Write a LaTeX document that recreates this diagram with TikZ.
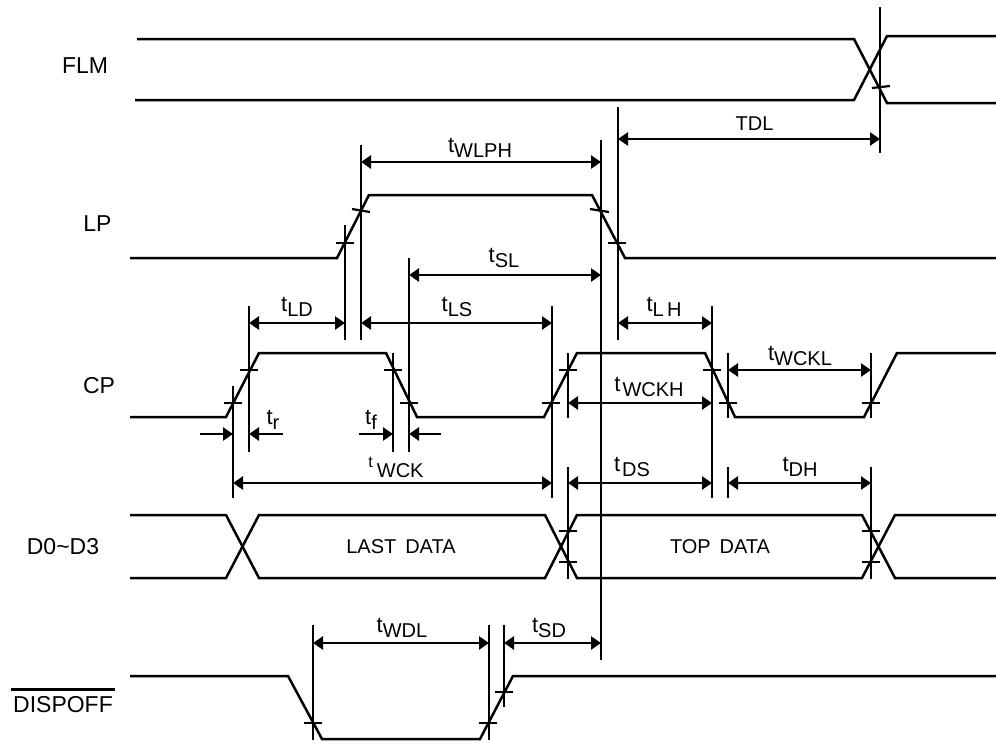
\documentclass[tikz,border=0pt]{standalone}
\usepackage{fontspec}
\setmainfont{Liberation Sans}
\usetikzlibrary{arrows.meta}
\newcommand{\tsub}[1]{{\fontsize{22}{22}\selectfont t}\raisebox{-4.5pt}{#1}}
\tikzset{
  signal/.style = {line width=2.5pt, line join=miter},
  ext/.style = {line width=2.5pt},
  tickmark/.style = {line width=2.2pt},
  dim/.style = {line width=2.5pt, -{Triangle[length=10pt,width=13pt]}},
  dimboth/.style = {line width=2.5pt, {Triangle[length=10pt,width=13pt]}-{Triangle[length=10pt,width=13pt]}},
  lab/.style = {font=\fontsize{20}{20}\selectfont, inner sep=0pt},
  sig/.style = {font=\fontsize{23}{23}\selectfont, inner sep=0pt},
}
\begin{document}
\begin{tikzpicture}[x=1pt, y=-1pt]
  \useasboundingbox[fill=white] (0,0) rectangle (996,742);
  % edges that the dimension lines refer to
  \coordinate (flm) at (880,0);
  \coordinate (lpa) at (345,0);
  \coordinate (lpb) at (361,0);
  \coordinate (lpc) at (601,0);
  \coordinate (lpd) at (618,0);
  \coordinate (cpa) at (233,0);
  \coordinate (cpb) at (249,0);
  \coordinate (cpc) at (393,0);
  \coordinate (cpd) at (409,0);
  \coordinate (cpe) at (552,0);
  \coordinate (cpf) at (568,0);
  \coordinate (cpg) at (712,0);
  \coordinate (cph) at (728,0);
  \coordinate (cpi) at (871,0);
  \coordinate (doa) at (313,0);
  \coordinate (dob) at (489,0);
  \coordinate (doc) at (504,0);
  % signal names
  \node[sig] (flmname) at (85,66) {FLM};
  \node[sig] (lpname) at (97.5,223.5) {LP};
  \node[sig] (cpname) at (99,385.5) {CP};
  \node[sig] (dname) at (63,547) {D0\textasciitilde D3};
  \node[sig] (dispname) at (63,705) {DISPOFF};
  \draw[ext] ([shift={(-2pt,7pt)}]dispname.north west) -- ([shift={(2pt,7pt)}]dispname.north east);
  % waveforms
  \draw[signal] (137,39) -- (854,39) -- (887,103) -- (996,103);
  \draw[signal] (135,100) -- (854,100) -- (887,36) -- (996,36);
  \draw[signal] (130,258) -- (337,258) -- (369,195) -- (592,195) -- (625,258) -- (996,258);
  \draw[signal] (130,417) -- (226,417) -- (259,353) -- (386,353) -- (417,417) -- (544,417)
    -- (577,353) -- (705,353) -- (735,417) -- (864,417) -- (897,353) -- (996,353);
  \draw[signal] (130,515) -- (226,515) -- (259,578) -- (545,578) -- (577,515) -- (862,515) -- (895,578) -- (996,578);
  \draw[signal] (130,578) -- (226,578) -- (259,515) -- (545,515) -- (577,578) -- (862,578) -- (895,515) -- (996,515);
  \draw[signal] (130,676) -- (288,676) -- (322,739) -- (480,739) -- (513,676) -- (996,676);
  \node[lab] (lastdata) at (401,547) {LAST\, DATA};
  \node[lab] (topdata) at (720,547) {TOP\, DATA};
  % ticks on the edges
  \foreach \tx/\ty in {345/243, 617/243, 249/370, 233/403, 393/370, 409/403, 568/370, 551/403,
      712/370, 728/403, 871/403, 568/531, 568/562, 871/531, 871/562, 313/723, 488/723, 504/692}
    \draw[tickmark] (\tx-9,\ty) -- (\tx+9,\ty);
  \draw[tickmark] (352,209) -- (370,212);
  \draw[tickmark] (590,209) -- (609,212);
  \draw[tickmark] (872,88) -- (890,86);
  % extension lines
  \draw[ext] (flm |- 0,7) -- (flm |- 0,153);
  \draw[ext] (lpa |- 0,225) -- (lpa |- 0,340);
  \draw[ext] (lpb |- 0,145) -- (lpb |- 0,340);
  \draw[ext] (lpc |- 0,140) -- (lpc |- 0,660);
  \draw[ext] (lpd |- 0,107) -- (lpd |- 0,340);
  \draw[ext] (cpa |- 0,386) -- (cpa |- 0,498);
  \draw[ext] (cpb |- 0,306) -- (cpb |- 0,452);
  \draw[ext] (cpc |- 0,353) -- (cpc |- 0,452);
  \draw[ext] (cpd |- 0,258) -- (cpd |- 0,452);
  \draw[ext] (cpe |- 0,306) -- (cpe |- 0,498);
  \draw[ext] (cpf |- 0,353) -- (cpf |- 0,418);
  \draw[ext] (cpf |- 0,467) -- (cpf |- 0,579);
  \draw[ext] (cpg |- 0,306) -- (cpg |- 0,498);
  \draw[ext] (cph |- 0,353) -- (cph |- 0,418);
  \draw[ext] (cph |- 0,467) -- (cph |- 0,498);
  \draw[ext] (cpi |- 0,353) -- (cpi |- 0,418);
  \draw[ext] (cpi |- 0,467) -- (cpi |- 0,579);
  \draw[ext] (doa |- 0,625) -- (doa |- 0,740);
  \draw[ext] (dob |- 0,625) -- (dob |- 0,740);
  \draw[ext] (doc |- 0,625) -- (doc |- 0,707);
  % dimensions
  \draw[dimboth] (lpd |- 0,139) -- (flm |- 0,139);
  \draw[dimboth] (lpb |- 0,162) -- (lpc |- 0,162);
  \draw[dimboth] (cpd |- 0,275) -- (lpc |- 0,275);
  \draw[dimboth] (cpb |- 0,323) -- (lpa |- 0,323);
  \draw[dimboth] (lpb |- 0,323) -- (cpe |- 0,323);
  \draw[dimboth] (lpd |- 0,323) -- (cpg |- 0,323);
  \draw[dimboth] (cph |- 0,370) -- (cpi |- 0,370);
  \draw[dimboth] (cpf |- 0,403) -- (cpg |- 0,403);
  \draw[dimboth] (cpf |- 0,483) -- (cpg |- 0,483);
  \draw[dimboth] (cph |- 0,483) -- (cpi |- 0,483);
  \draw[dimboth] (cpa |- 0,483) -- (cpe |- 0,483);
  \draw[dimboth] (doa |- 0,643) -- (dob |- 0,643);
  \draw[dimboth] (doc |- 0,643) -- (lpc |- 0,643);
  \coordinate (tra) at (200,434);
  \coordinate (trb) at (283,434);
  \coordinate (tfa) at (359,434);
  \coordinate (tfb) at (441,434);
  \draw[dim] (tra) -- (cpa |- tra);
  \draw[dim] (trb) -- (cpb |- trb);
  \draw[dim] (tfa) -- (cpc |- tfa);
  \draw[dim] (tfb) -- (cpd |- tfb);
  % dimension names
  \node[lab] (tdl) at (754.5,123.5) {TDL};
  \node[lab] (twlph) at (480,148) {\tsub{WLPH}};
  \node[lab] (tsl) at (504,258) {\tsub{SL}};
  \node[lab] (tld) at (297,307) {\tsub{LD}};
  \node[lab] (tls) at (457,307) {\tsub{LS}};
  \node[lab] (tlh) at (664,307) {\tsub{L\,H}};
  \node[lab] (twckl) at (800,356) {\tsub{WCKL}};
  \node[lab] (twckh) at (649,387) {\tsub{\hspace{2pt}WCKH}};
  \node[lab] (tr) at (273,420) {\tsub{r}};
  \node[lab] (tf) at (371,420) {\tsub{f}};
  \node[lab] (twck) at (396,467) {\raisebox{10pt}{\fontsize{16}{16}\selectfont t}\hspace{4pt}WCK};
  \node[lab] (tds) at (632,467) {\tsub{\hspace{2pt}DS}};
  \node[lab] (tdh) at (800,467) {\tsub{DH}};
  \node[lab] (twdl) at (402,628) {\tsub{WDL}};
  \node[lab] (tsd) at (549,628) {\tsub{SD}};
\end{tikzpicture}
\end{document}
